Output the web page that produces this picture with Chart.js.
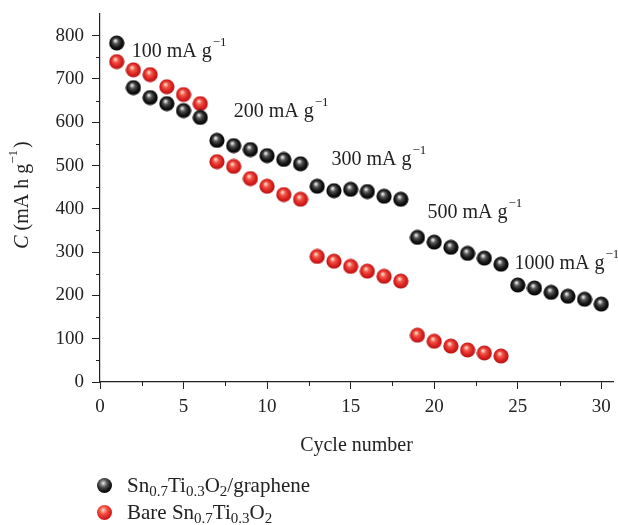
<!DOCTYPE html>
<html>
<head>
<meta charset="utf-8">
<script src="https://cdn.jsdelivr.net/npm/chart.js@4"></script>
<style>
  body { margin: 0; background: #fff; }
  #wrap { position: relative; width: 618px; height: 525px; }
  .leg { position: absolute; left: 97px; font-family: "Liberation Serif", serif; font-size: 21px; color: #222; white-space: nowrap; }
  .leg span.dot { display: inline-block; width: 15px; height: 15px; border-radius: 50%; vertical-align: -1px; margin-right: 15px; }
  .leg sub { font-size: 15px; vertical-align: -4px; }
  .black { background: radial-gradient(circle at 42% 35%, #e8e8e8 0%, #555 30%, #111 60%, #000 100%); }
  .red { background: radial-gradient(circle at 42% 35%, #ffd8c8 0%, #f05040 30%, #d92020 60%, #b01010 100%); }
</style>
</head>
<body>
<div id="wrap">
  <canvas id="grafica" width="618" height="525"></canvas>
  <div class="leg" style="top:473px"><span class="dot black"></span>Sn<sub>0.7</sub>Ti<sub>0.3</sub>O<sub>2</sub>/graphene</div>
  <div class="leg" style="top:500px"><span class="dot red"></span>Bare Sn<sub>0.7</sub>Ti<sub>0.3</sub>O<sub>2</sub></div>
</div>
<script>
//DATOS
const ciclos = [1,2,3,4,5,6,7,8,9,10,11,12,13,14,15,16,17,18,19,20,21,22,23,24,25,26,27,28,29,30];
const grafeno = [783,680,657,643,627,611,558,546,537,523,514,504,452,442,445,440,429,422,334,323,311,297,286,272,224,217,207,198,191,180];
const ciclosBare = [1,2,3,4,5,6,7,8,9,10,11,12,13,14,15,16,17,18,19,20,21,22,23,24];
const bare = [740,721,710,682,664,643,509,498,470,452,433,422,290,279,267,256,244,233,108,94,83,74,67,60];
const etiquetas = ['100', '200', '300', '500', '1000'];
const etiquetasX = [1.9, 8.0, 13.85, 19.6, 24.8];
const etiquetasY = [763, 625, 514, 391, 273];

const fuente = '"Liberation Serif", serif';

//ESFERAS
function esfera(claro, medio, oscuro, borde) {
    const c = document.createElement('canvas');
    c.width = 16; c.height = 16;
    const g = c.getContext('2d');
    const grad = g.createRadialGradient(6.5, 5.5, 0.5, 8, 8, 8);
    grad.addColorStop(0, claro);
    grad.addColorStop(0.3, medio);
    grad.addColorStop(0.65, oscuro);
    grad.addColorStop(1, borde);
    g.fillStyle = grad;
    g.beginPath();
    g.arc(8, 8, 7.6, 0, Math.PI * 2);
    g.fill();
    return c;
}
const bolaNegra = esfera('#eeeeee', '#555555', '#161616', '#000000');
const bolaRoja = esfera('#ffdccc', '#f05545', '#dc2222', '#b01010');

//PLUGIN TEXTOS
const textos = {
    id: 'textos',
    afterDatasetsDraw(chart) {
        const ctx = chart.ctx;
        const sx = chart.scales.x, sy = chart.scales.y;
        ctx.save();
        ctx.fillStyle = '#222';
        ctx.textBaseline = 'middle';
        for (let i = 0; i < etiquetas.length; i++) {
            const px = sx.getPixelForValue(etiquetasX[i]);
            const py = sy.getPixelForValue(etiquetasY[i]);
            ctx.font = '20px ' + fuente;
            const t = etiquetas[i] + ' mA g';
            ctx.fillText(t, px, py);
            const w = ctx.measureText(t).width;
            ctx.font = '13px ' + fuente;
            ctx.fillText('\u22121', px + w + 1, py - 9);
        }
        // titulo eje y
        ctx.translate(23, 195);
        ctx.rotate(-Math.PI / 2);
        ctx.textAlign = 'left';
        const p1 = 'C';
        ctx.font = 'italic 20px ' + fuente;
        const w1 = ctx.measureText(p1).width;
        ctx.font = '20px ' + fuente;
        const p2 = ' (mA h g';
        const w2 = ctx.measureText(p2).width;
        ctx.font = '13px ' + fuente;
        const w3 = ctx.measureText('\u22121').width;
        ctx.font = '20px ' + fuente;
        const w4 = ctx.measureText(')').width;
        let x0 = -(w1 + w2 + w3 + w4 + 2) / 2;
        ctx.font = 'italic 20px ' + fuente;
        ctx.fillText(p1, x0, 0); x0 += w1;
        ctx.font = '20px ' + fuente;
        ctx.fillText(p2, x0, 0); x0 += w2;
        ctx.font = '13px ' + fuente;
        ctx.fillText('\u22121', x0, -9); x0 += w3 + 2;
        ctx.font = '20px ' + fuente;
        ctx.fillText(')', x0, 0);
        ctx.restore();
    },
    afterDraw(chart) {
        // marcas menores
        const ctx = chart.ctx;
        const sx = chart.scales.x, sy = chart.scales.y;
        ctx.save();
        ctx.strokeStyle = '#222';
        ctx.lineWidth = 1;
        for (let v = 2.5; v < 30.5; v += 5) {
            const px = Math.round(sx.getPixelForValue(v)) + 0.5;
            ctx.beginPath(); ctx.moveTo(px, sy.bottom); ctx.lineTo(px, sy.bottom + 4); ctx.stroke();
        }
        for (let v = 50; v < 850; v += 100) {
            const py = Math.round(sy.getPixelForValue(v)) + 0.5;
            ctx.beginPath(); ctx.moveTo(sx.left, py); ctx.lineTo(sx.left - 4, py); ctx.stroke();
        }
        ctx.restore();
    }
};

//GRAFICA
const ctx = document.getElementById('grafica');
new Chart(ctx, {
    type: 'scatter',
    data: {
        datasets: [{
            label: 'Sn0.7Ti0.3O2/graphene',
            data: ciclos.map((c, i) => ({ x: c, y: grafeno[i] })),
            pointStyle: bolaNegra
        }, {
            label: 'Bare Sn0.7Ti0.3O2',
            data: ciclosBare.map((c, i) => ({ x: c, y: bare[i] })),
            pointStyle: bolaRoja
        }]
    },
    options: {
        responsive: false,
        animation: false,
        layout: { padding: { top: 14, right: 3, bottom: 67, left: 0 } },
        plugins: { legend: { display: false }, tooltip: { enabled: false } },
        scales: {
            x: {
                type: 'linear',
                min: 0, max: 30.7,
                afterFit(s) { s.height = 76; s.paddingLeft = 0; s.paddingRight = 0; },
                border: { color: '#222', width: 1.2 },
                grid: { drawOnChartArea: false, tickLength: 7, tickColor: '#222' },
                ticks: { stepSize: 5, includeBounds: false, padding: 7, color: '#222', font: { family: fuente, size: 19 } },
                title: { display: true, text: 'Cycle number', color: '#222', padding: 0, font: { family: fuente, size: 20 } }
            },
            y: {
                min: 0, max: 850,
                afterFit(s) { s.width = 100; s.paddingTop = 0; s.paddingBottom = 0; },
                border: { color: '#222', width: 1.2 },
                grid: { drawOnChartArea: false, tickLength: 8, tickColor: '#222' },
                ticks: { stepSize: 100, includeBounds: false, padding: 8, color: '#222', font: { family: fuente, size: 19 } }
            }
        }
    },
    plugins: [textos]
});
</script>
</body>
</html>
